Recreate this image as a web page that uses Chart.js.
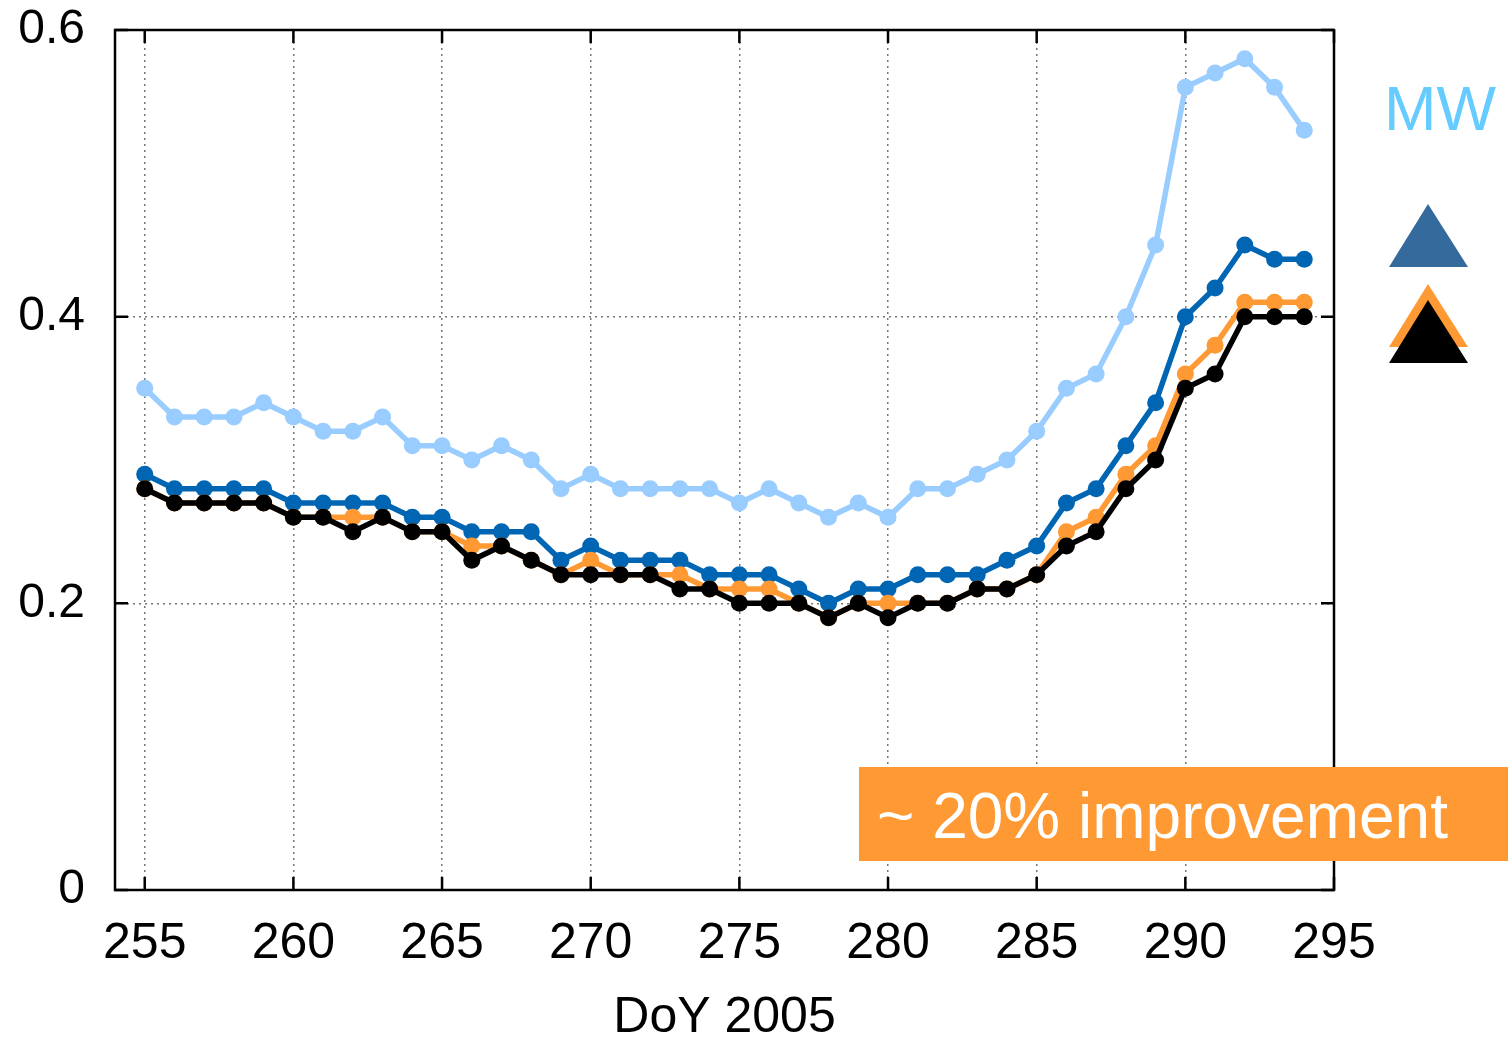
<!DOCTYPE html>
<html>
<head>
<meta charset="utf-8">
<script src="https://cdn.jsdelivr.net/npm/chart.js@4.4.0/dist/chart.umd.min.js"></script>
<style>
  html, body { margin: 0; padding: 0; background: #fff; }
  #wrap { position: relative; width: 1508px; height: 1039px; }
  #chart { position: absolute; left: 0; top: 0; }
  #notes { position: absolute; left: 0; top: 0; pointer-events: none; }
</style>
</head>
<body>
<div id="wrap">
  <canvas id="chart" width="1508" height="1039"></canvas>
  <svg id="notes" width="1508" height="1039" font-family="'Liberation Sans', Arial, sans-serif">
    <text x="1384" y="130" font-size="63" fill="#66ccff">MW</text>
    <polygon points="1428,204 1389,267 1468,267" fill="#356a9c"></polygon>
    <polygon points="1428,284 1389,347 1468,347" fill="#ff9933"></polygon>
    <polygon points="1428,300 1389,363 1468,363" fill="#000000"></polygon>
    <rect x="859" y="767" width="649" height="94" fill="#ff9933"></rect>
    <text x="877" y="838" font-size="64" fill="#ffffff">~ 20% improvement</text>
  </svg>
</div>
<script>
// day of year 2005
const days = [255,256,257,258,259,260,261,262,263,264,265,266,267,268,269,270,271,272,273,274,
              275,276,277,278,279,280,281,282,283,284,285,286,287,288,289,290,291,292,293,294];

const mwValues = [0.35,0.33,0.33,0.33,0.34,0.33,0.32,0.32,0.33,0.31,0.31,0.30,0.31,0.30,0.28,0.29,0.28,0.28,0.28,0.28,
                  0.27,0.28,0.27,0.26,0.27,0.26,0.28,0.28,0.29,0.30,0.32,0.35,0.36,0.40,0.45,0.56,0.57,0.58,0.56,0.53];
const blueValues = [0.29,0.28,0.28,0.28,0.28,0.27,0.27,0.27,0.27,0.26,0.26,0.25,0.25,0.25,0.23,0.24,0.23,0.23,0.23,0.22,
                    0.22,0.22,0.21,0.20,0.21,0.21,0.22,0.22,0.22,0.23,0.24,0.27,0.28,0.31,0.34,0.40,0.42,0.45,0.44,0.44];
const orangeValues = [0.28,0.27,0.27,0.27,0.27,0.26,0.26,0.26,0.26,0.25,0.25,0.24,0.24,0.23,0.22,0.23,0.22,0.22,0.22,0.21,
                      0.21,0.21,0.20,0.19,0.20,0.20,0.20,0.20,0.21,0.21,0.22,0.25,0.26,0.29,0.31,0.36,0.38,0.41,0.41,0.41];
const blackValues = [0.28,0.27,0.27,0.27,0.27,0.26,0.26,0.25,0.26,0.25,0.25,0.23,0.24,0.23,0.22,0.22,0.22,0.22,0.21,0.21,
                     0.20,0.20,0.20,0.19,0.20,0.19,0.20,0.20,0.21,0.21,0.22,0.24,0.25,0.28,0.30,0.35,0.36,0.40,0.40,0.40];

const xTicks = [255,260,265,270,275,280,285,290,295];
const yTicks = [0,0.2,0.4,0.6];

const FONT = "'Liberation Sans', Arial, sans-serif";

function series(values, color) {
  return {
    data: values.map((v, i) => ({x: days[i], y: v})),
    borderColor: color,
    backgroundColor: color,
    pointBackgroundColor: color,
    pointBorderColor: color,
    pointBorderWidth: 0,
    pointRadius: 8.5,
    borderWidth: 5.5,
    tension: 0
  };
}

// frame with inward ticks, like the original plot
const framePlugin = {
  id: 'frame',
  afterDraw(chart) {
    const {ctx, chartArea: a, scales} = chart;
    ctx.save();
    ctx.strokeStyle = '#000';
    ctx.lineWidth = 2.5;
    ctx.strokeRect(a.left, a.top, a.right - a.left, a.bottom - a.top);
    const len = 13;
    ctx.beginPath();
    xTicks.forEach(v => {
      const x = scales.x.getPixelForValue(v);
      ctx.moveTo(x, a.bottom); ctx.lineTo(x, a.bottom - len);
      ctx.moveTo(x, a.top); ctx.lineTo(x, a.top + len);
    });
    yTicks.forEach(v => {
      const y = scales.y.getPixelForValue(v);
      ctx.moveTo(a.left, y); ctx.lineTo(a.left + len, y);
      ctx.moveTo(a.right, y); ctx.lineTo(a.right - len, y);
    });
    ctx.stroke();
    ctx.restore();
  }
};

new Chart(document.getElementById('chart').getContext('2d'), {
  type: 'line',
  data: {
    datasets: [
      series(blackValues, '#000000'),
      series(orangeValues, '#ff9933'),
      series(blueValues, '#0066b3'),
      series(mwValues, '#99ccff')
    ]
  },
  options: {
    responsive: false,
    animation: false,
    layout: { padding: { top: 30, right: 174, left: 0, bottom: 0 } },
    plugins: { legend: { display: false }, tooltip: { enabled: false } },
    scales: {
      x: {
        type: 'linear',
        min: 254,
        max: 295,
        afterBuildTicks: s => { s.ticks = xTicks.map(v => ({value: v})); },
        afterFit: s => { s.height = 149; },
        grid: { color: '#777', lineWidth: 1.5, drawTicks: false },
        border: { display: false, dash: [2, 4] },
        ticks: { color: '#000', padding: 24, font: { family: FONT, size: 50 } },
        title: { display: true, text: 'DoY 2005', color: '#000', padding: 0,
                 font: { family: FONT, size: 50, lineHeight: 0.84 } }
      },
      y: {
        min: 0,
        max: 0.6,
        afterBuildTicks: s => { s.ticks = yTicks.map(v => ({value: v})); },
        afterFit: s => { s.width = 115; s.paddingTop = 0; s.paddingBottom = 0; },
        grid: { color: '#777', lineWidth: 1.5, drawTicks: false },
        border: { display: false, dash: [2, 4] },
        ticks: { color: '#000', padding: 30, font: { family: FONT, size: 48 },
                 callback: v => v === 0 ? '0' : v.toFixed(1) }
      }
    }
  },
  plugins: [framePlugin]
});
</script>
</body>
</html>
